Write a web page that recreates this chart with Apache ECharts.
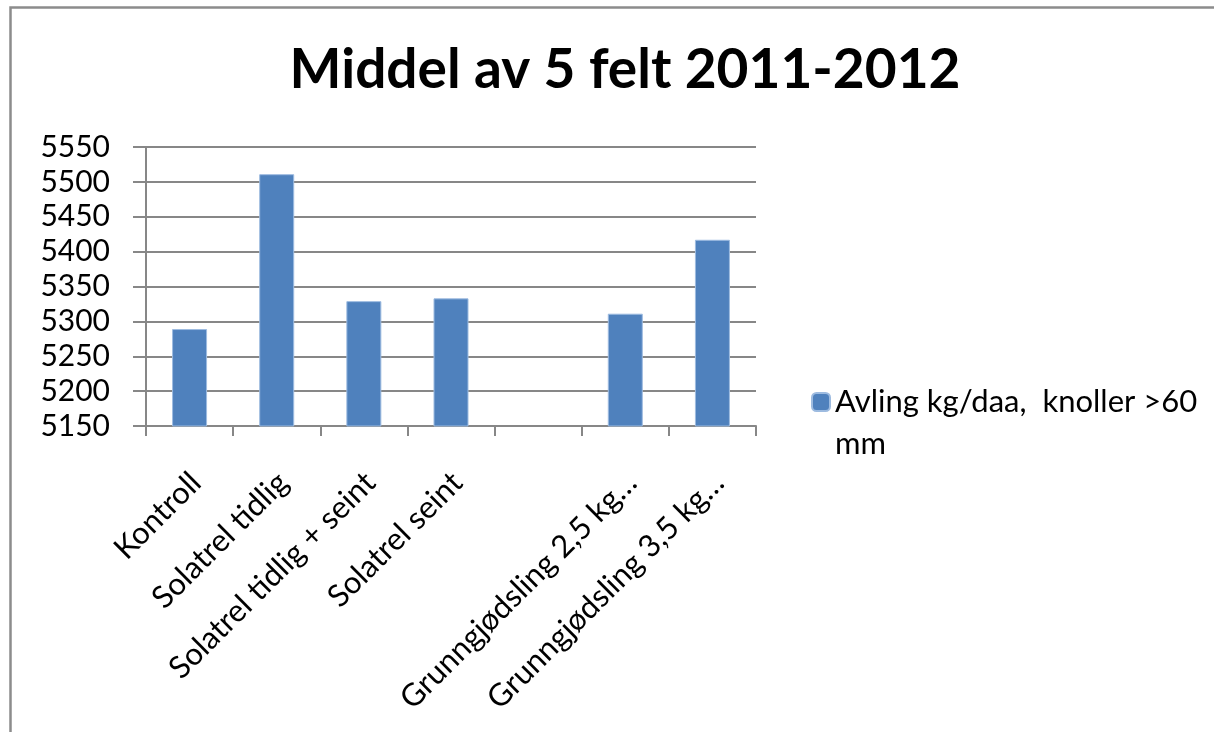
<!DOCTYPE html>
<html>
<head>
<meta charset="utf-8">
<title>Middel av 5 felt 2011-2012</title>
<script src="https://cdn.jsdelivr.net/npm/echarts@6/dist/echarts.min.js"></script>
<style>
    html, body { margin: 0; padding: 0; background: #fff; }
    #chart { width: 1214px; height: 732px; }
</style>
</head>
<body>
<div id="chart"></div>
<script>
// data
var categories = ['Kontroll', 'Solatrel tidlig', 'Solatrel tidlig + seint', 'Solatrel seint', '',
    'Grunngjødsling 2,5 kg…', 'Grunngjødsling 3,5 kg…'];
var avling = [5289, 5511, 5329, 5333, '-', 5311, 5417];
var seriesName = 'Avling kg/daa,  knoller >60 mm';
var yMin = 5150, yMax = 5550, yStep = 50;

var font = 'Lato, "Open Sans", sans-serif';
var gray = '#878787';

var chart = echarts.init(document.getElementById('chart'));

var option = {
    animation: false,
    backgroundColor: '#fff',
    textStyle: { fontFamily: font },
    title: {
        text: 'Middel av 5 felt 2011-2012',
        left: 620,
        top: 38,
        textAlign: 'center',
        textStyle: { fontFamily: font, fontWeight: 'bold', fontSize: 55, color: '#000' }
    },
    legend: {
        left: 811,
        top: 339,
        padding: 0,
        itemWidth: 18,
        itemHeight: 18,
        itemGap: 0,
        data: [seriesName],
        // empty first line keeps the first text line level with the square
        formatter: function (name) {
            return ' \n' + name.replace(' mm', '\nmm');
        },
        textStyle: { fontFamily: font, fontSize: 31, color: '#000', lineHeight: 42 }
    },
    grid: { left: 146, right: 458, top: 147, bottom: 306 },
    xAxis: {
        type: 'category',
        data: categories,
        axisLine: { lineStyle: { color: gray, width: 2 } },
        axisTick: { show: true, length: 10, inside: false, lineStyle: { color: gray, width: 2 } },
        axisLabel: {
            interval: 0,
            rotate: 45,
            margin: 58,
            padding: [0, -9, 0, 0],
            fontFamily: font,
            fontSize: 31,
            color: '#000'
        }
    },
    yAxis: {
        type: 'value',
        min: yMin,
        max: yMax,
        interval: yStep,
        axisLine: { show: true, lineStyle: { color: gray, width: 2 } },
        axisTick: { show: true, length: 13, lineStyle: { color: gray, width: 2 } },
        splitLine: { lineStyle: { color: gray, width: 2 } },
        axisLabel: {
            margin: 36,
            fontFamily: font,
            fontSize: 30,
            color: '#000',
            formatter: function (v) { return String(v); }
        }
    },
    series: [{
        name: seriesName,
        type: 'bar',
        data: avling,
        barWidth: 35,
        itemStyle: { color: '#4f81bd', borderColor: '#9dbbe0', borderWidth: 1 }
    }],
    graphic: [{
        type: 'rect',
        left: 8,
        top: 5,
        shape: { width: 1300, height: 800 },
        style: { fill: 'none', stroke: '#8c8c8c', lineWidth: 2.5 },
        silent: true
    }]
};

chart.setOption(option);
</script>
</body>
</html>
